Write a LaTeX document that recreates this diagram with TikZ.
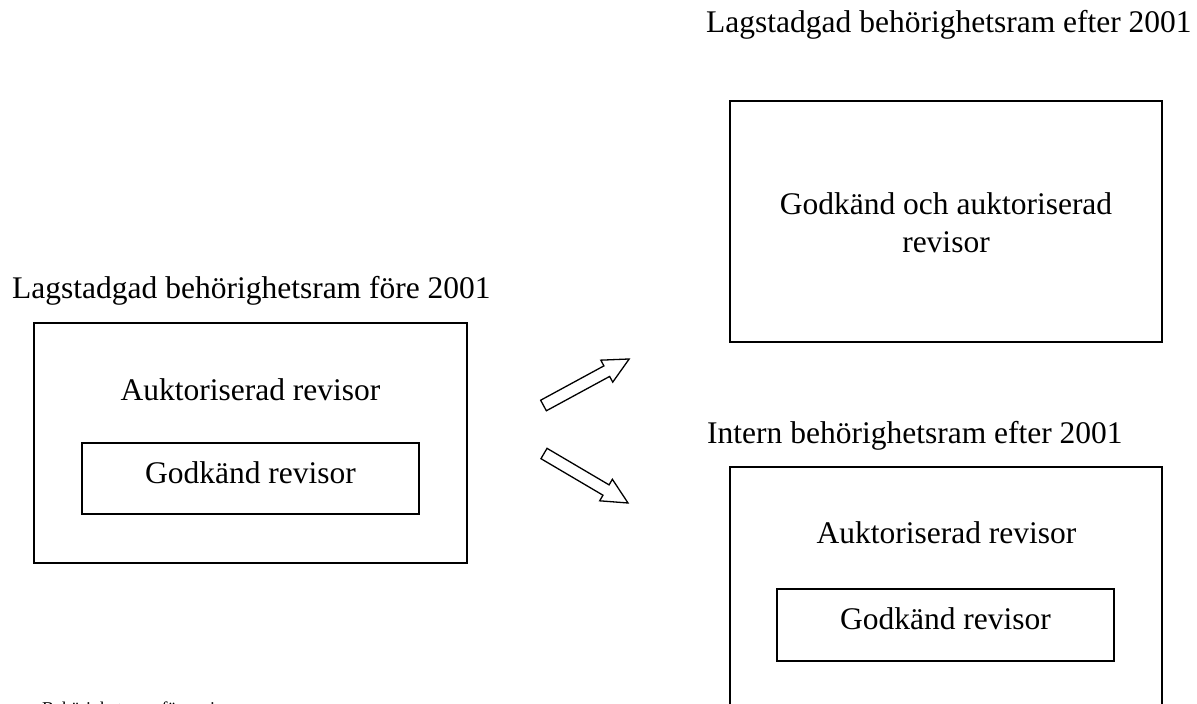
\documentclass[tikz,border=0pt]{standalone}
\usepackage{fontspec}
\setmainfont{Liberation Serif}
\begin{document}
\begin{tikzpicture}[x=1pt,y=-1pt,
  box/.style={draw, line width=1.3pt, inner sep=0pt},
  lbl/.style={font=\fontsize{31.5}{37.5}\selectfont, inner sep=0pt, anchor=base},
  ttl/.style={lbl, anchor=base west},
  blockarrow/.style={draw, line width=1.3pt, line join=miter, fill=white}]
\clip (0,0) rectangle (1197,704);
% titles
\node[ttl] (ttop) at (706,32) {Lagstadgad behörighetsram efter 2001};
\node[ttl] (tleft) at (12,298) {Lagstadgad behörighetsram före 2001};
\node[ttl] (tint) at (707,443) {Intern behörighetsram efter 2001};
% left boxes
\node[box, minimum width=433, minimum height=240] (L) at (250.5,443) {};
\node[box, minimum width=337, minimum height=71] (Li) at (250.5,478.5) {};
\node[lbl] (La) at (250.5,400) {Auktoriserad revisor};
\node[lbl] (Lg) at (250.5,483) {Godkänd revisor};
% top right box
\node[box, minimum width=432, minimum height=241] (R1) at (946,221.5) {};
\node[lbl, align=center, anchor=base] (R1t) at (946,252) {Godkänd och auktoriserad\\revisor};
% bottom right boxes
\node[box, minimum width=432, minimum height=293] (R2) at (946,613.5) {};
\node[box, minimum width=337, minimum height=72] (R2i) at (945.5,625) {};
\node[lbl] (R2a) at (946.5,543) {Auktoriserad revisor};
\node[lbl] (R2g) at (945.5,629) {Godkänd revisor};
% block arrows
\coordinate (upTail) at (543.5,405.5);
\coordinate (dnTail) at (544,453.5);
\begin{scope}[shift={(upTail)}, rotate=28.5]
  \draw[blockarrow] (0,-6) -- (72,-6) -- (72,-12.5) -- (97.5,0) -- (72,12.5) -- (72,6) -- (0,6) -- cycle;
\end{scope}
\begin{scope}[shift={(dnTail)}, rotate=-30.5]
  \draw[blockarrow] (0,-6) -- (72,-6) -- (72,-12.5) -- (97.5,0) -- (72,12.5) -- (72,6) -- (0,6) -- cycle;
\end{scope}
% footnote, cut off by the lower edge as in the reference
\node[anchor=base west, inner sep=0pt, font=\fontsize{18}{20}\selectfont] (foot) at (42,714) {Behörighetsram för revisorer};
\end{tikzpicture}
\end{document}
